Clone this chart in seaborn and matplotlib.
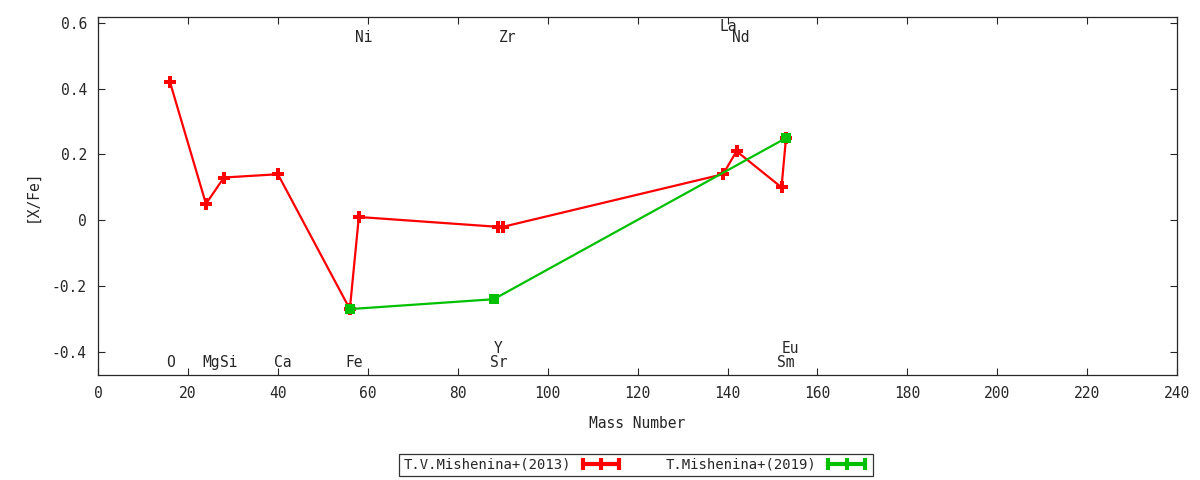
import matplotlib
matplotlib.use("Agg")
import matplotlib.pyplot as plt
from matplotlib.lines import Line2D
import seaborn as sns
import pandas as pd

# T.V.Mishenina+(2013)
mass_2013 = [16, 24, 28, 40, 56, 58, 89, 90, 139, 142, 152, 153]
xfe_2013 = [0.42, 0.05, 0.13, 0.14, -0.27, 0.01, -0.02, -0.02, 0.14, 0.21, 0.10, 0.25]

# T.Mishenina+(2019)
mass_2019 = [56, 88, 153]
xfe_2019 = [-0.27, -0.24, 0.25]

# element labels: name, mass number, label height
elem_names = ["O", "Mg", "Si", "Ca", "Fe", "Sr", "Y", "Sm", "Eu", "Ni", "Zr", "La", "Nd"]
elem_mass = [16, 24, 28, 40, 56, 88, 89, 152, 153, 58, 90, 139, 142]
elem_ypos = [-0.433, -0.433, -0.433, -0.433, -0.433, -0.433, -0.39, -0.433, -0.39,
             0.557, 0.557, 0.588, 0.557]

x_ticks = list(range(0, 241, 20))
y_ticks = [-0.4, -0.2, 0.0, 0.2, 0.4, 0.6]
y_tick_labels = ["-0.4", "-0.2", "0", "0.2", "0.4", "0.6"]

RED = "#ff0000"
GREEN = "#00c000"

sns.set_style("ticks")
plt.rcParams["font.family"] = ["DejaVu Sans Mono"]
plt.rcParams["font.size"] = 10

df13 = pd.DataFrame({"mass": mass_2013, "xfe": xfe_2013})
df19 = pd.DataFrame({"mass": mass_2019, "xfe": xfe_2019})

fig = plt.figure(figsize=(12, 4.8), dpi=100)
ax = fig.add_axes([0.0817, 0.219, 0.8993, 0.7456])

sns.lineplot(data=df13, x="mass", y="xfe", ax=ax, sort=False, color=RED,
             linewidth=1.6, marker="P", markersize=8, markeredgewidth=0)
sns.lineplot(data=df19, x="mass", y="xfe", ax=ax, sort=False, color=GREEN,
             linewidth=1.6, marker="s", markersize=7, markeredgewidth=0)

# element names, left edge a little left of the mass number
for name, m, yy in zip(elem_names, elem_mass, elem_ypos):
    ax.text(m - 0.9, yy, name, ha="left", va="center", fontsize=10.5)

ax.set_xlim(0, 240)
ax.set_ylim(-0.47, 0.618)
ax.set_xticks(x_ticks)
ax.set_yticks(y_ticks)
ax.set_yticklabels(y_tick_labels)
ax.tick_params(direction="in", top=True, right=True, length=5, width=0.8,
               labelsize=10.5, pad=8)
for s in ax.spines.values():
    s.set_linewidth(0.9)
    s.set_visible(True)

ax.set_xlabel("Mass Number", fontsize=10.5, labelpad=11)
ax.set_ylabel("[X/Fe]", fontsize=10.5, labelpad=9)

handles = [
    Line2D([], [], color=RED, linewidth=3, marker="|", markersize=9, markeredgewidth=3),
    Line2D([], [], color=GREEN, linewidth=3, marker="|", markersize=9, markeredgewidth=3),
]
leg = fig.legend(handles, ["T.V.Mishenina+(2013)", "T.Mishenina+(2019)"],
                 loc="center", bbox_to_anchor=(0.53, 0.0313), ncol=2,
                 markerfirst=False, numpoints=3, frameon=True, fancybox=False,
                 edgecolor="black", fontsize=10, handlelength=3.2,
                 columnspacing=3.0, borderpad=0.3, handletextpad=0.6)
leg.get_frame().set_linewidth(0.9)

fig.savefig("out.png", dpi=100)
